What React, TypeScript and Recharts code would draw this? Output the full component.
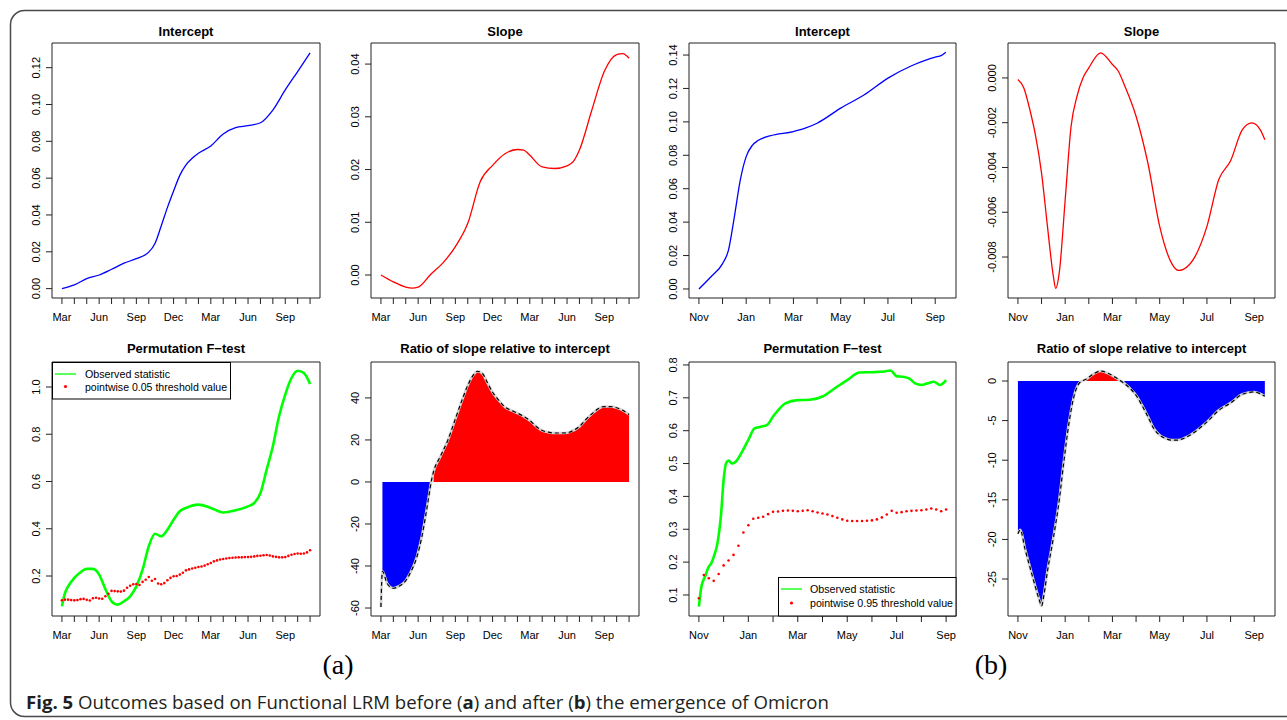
import React from 'react';
import { ComposedChart, Line, Area, XAxis, YAxis, ReferenceArea } from 'recharts';

const FONT = '"Liberation Sans", Arial, Helvetica, sans-serif';

// ---------- axis tick labels ----------
const monthTicksA = [0, 1, 2, 3, 4, 5, 6, 7, 8, 9, 10, 11, 12, 13, 14, 15, 16, 17, 18, 19, 20];
const monthLabelsA = ['Mar', '', '', 'Jun', '', '', 'Sep', '', '', 'Dec', '', '', 'Mar', '', '', 'Jun', '', '', 'Sep', '', ''];
const monthTicksB = [0, 1, 2, 3, 4, 5, 6, 7, 8, 9, 10];
const monthLabelsB = ['Nov', '', 'Jan', '', 'Mar', '', 'May', '', 'Jul', '', 'Sep'];

// ---------- (a) Intercept ----------
const interceptAMonths = [0, 1, 2, 3, 4, 5, 6, 7, 7.5, 8, 8.5, 9, 9.5, 10, 10.5, 11, 12, 13, 14, 15, 16, 17, 18, 19, 20];
const interceptAValues = [0.0, 0.002, 0.0054, 0.0074, 0.0105, 0.0138, 0.0163, 0.0198, 0.0245, 0.034, 0.044, 0.053, 0.0615, 0.0672, 0.0708, 0.0735, 0.0775, 0.084, 0.0874, 0.0885, 0.0901, 0.097, 0.1079, 0.1179, 0.128];

// ---------- (a) Slope ----------
const slopeAMonths = [0, 1, 2, 2.5, 3, 4, 5, 6, 7, 8, 9, 10, 11, 11.5, 12, 13, 14, 15, 15.5, 16, 17, 18, 19, 19.5, 20];
const slopeAValues = [0.0, -0.0013, -0.0023, -0.0025, -0.0023, 0.0001, 0.0023, 0.0054, 0.0098, 0.0177, 0.0208, 0.023, 0.0238, 0.0237, 0.0227, 0.0205, 0.0202, 0.0207, 0.0215, 0.0237, 0.0313, 0.0386, 0.0418, 0.042, 0.0411];

// ---------- (b) Intercept ----------
const interceptBMonths = [0, 0.5, 1, 1.25, 1.5, 1.75, 2, 2.25, 2.5, 3, 4, 4.5, 5, 6, 7, 8, 9, 10, 10.25, 10.45];
const interceptBValues = [0, 0.0072, 0.0152, 0.0232, 0.0432, 0.0652, 0.0792, 0.0858, 0.0888, 0.0916, 0.0942, 0.0962, 0.0992, 0.1082, 0.1162, 0.1262, 0.1336, 0.1388, 0.1396, 0.1416];

// ---------- (b) Slope ----------
const slopeBMonths = [0, 0.25, 0.5, 0.75, 1, 1.25, 1.5, 1.6, 1.75, 2, 2.25, 2.5, 2.75, 3, 3.5, 4, 4.25, 4.5, 5, 5.5, 6, 6.5, 6.8, 7, 7.5, 8, 8.5, 9, 9.5, 9.9, 10.25, 10.45];
const slopeBValues = [-0.00007, -0.00045, -0.0014, -0.0026, -0.00425, -0.00663, -0.00886, -0.0094, -0.0087, -0.00544, -0.00216, -0.00082, 0.0, 0.00045, 0.00112, 0.0006, 0.0003, -0.0003, -0.00171, -0.0038, -0.00663, -0.00827, -0.0086, -0.00855, -0.00797, -0.00663, -0.00454, -0.0037, -0.00231, -0.00201, -0.00231, -0.00276];

// ---------- (a) Permutation F-test ----------
const fObsAMonths = [0, 0.25, 0.5, 1, 1.5, 2, 2.5, 3, 3.5, 4, 4.5, 5, 5.5, 6, 6.5, 7, 7.5, 8, 8.5, 9, 9.5, 10, 11, 12, 13, 14, 15, 15.5, 16, 16.5, 17, 17.5, 18, 18.5, 19, 19.5, 20];
const fObsAValues = [0.072, 0.128, 0.156, 0.192, 0.216, 0.23, 0.23, 0.206, 0.145, 0.093, 0.079, 0.093, 0.114, 0.156, 0.227, 0.326, 0.379, 0.368, 0.396, 0.438, 0.474, 0.488, 0.502, 0.488, 0.469, 0.478, 0.495, 0.509, 0.551, 0.65, 0.749, 0.876, 0.968, 1.038, 1.069, 1.059, 1.013];
const fThrAMonths = [
  0, 0.25, 0.5, 0.75, 1, 1.25, 1.5, 1.75, 2, 2.25, 2.5, 2.75, 3, 3.25, 3.5, 3.75, 4, 4.25, 4.5, 4.75,
  5, 5.25, 5.5, 5.75, 6, 6.25, 6.5, 6.75, 7, 7.25, 7.5, 7.75, 8, 8.25, 8.5, 8.75, 9, 9.25, 9.5, 9.75,
  10, 10.25, 10.5, 10.75, 11, 11.25, 11.5, 11.75, 12, 12.25, 12.5, 12.75, 13, 13.25, 13.5, 13.75, 14, 14.25, 14.5, 14.75,
  15, 15.25, 15.5, 15.75, 16, 16.25, 16.5, 16.75, 17, 17.25, 17.5, 17.75, 18, 18.25, 18.5, 18.75, 19, 19.25, 19.5, 19.75, 20,
];
const fThrAValues = [
  0.097, 0.1, 0.1, 0.098, 0.097, 0.098, 0.102, 0.103, 0.099, 0.096, 0.106, 0.108, 0.105, 0.104, 0.114, 0.125, 0.137, 0.136, 0.135, 0.134,
  0.138, 0.15, 0.159, 0.165, 0.166, 0.162, 0.175, 0.184, 0.196, 0.18, 0.187, 0.168, 0.165, 0.17, 0.182, 0.192, 0.199, 0.2, 0.206, 0.214,
  0.224, 0.228, 0.232, 0.235, 0.238, 0.24, 0.244, 0.25, 0.255, 0.262, 0.266, 0.27, 0.272, 0.274, 0.276, 0.277, 0.278, 0.279, 0.279, 0.28,
  0.28, 0.281, 0.283, 0.285, 0.286, 0.288, 0.289, 0.287, 0.283, 0.281, 0.279, 0.279, 0.28, 0.285, 0.29, 0.293, 0.295, 0.294, 0.295, 0.3, 0.309,
];

// ---------- (a) Ratio ----------
const ratioAMonths = [0, 0.12, 0.5, 1.0, 1.5, 2.0, 2.35, 2.9, 3.3, 3.64, 3.9, 4.0, 4.24, 4.78, 5.4, 6.0, 6.6, 7.0, 7.4, 7.8, 8.2, 8.6, 9.0, 9.5, 10, 10.5, 11, 11.5, 12, 12.5, 13, 13.5, 14, 14.5, 15, 15.5, 16, 16.5, 17, 17.5, 18, 18.5, 19, 19.5, 20];
const ratioAValues = [-59.5, -42.5, -48.3, -50.6, -49.5, -47, -43.5, -35.6, -26, -14.8, -5.3, -1.6, 4.9, 12, 20, 30, 40, 46, 50.5, 52.7, 51.5, 47, 42.7, 38.9, 35.7, 34.1, 32.8, 31.2, 29.3, 26.5, 24.5, 23.7, 23.3, 23.3, 23.4, 24.5, 26.4, 29.6, 32.4, 34.8, 35.9, 35.9, 35.3, 34.1, 32.1];
const ratioAFillStart = 1;

// ---------- (b) Permutation F-test ----------
const fObsBMonths = [0, 0.1, 0.25, 0.4, 0.5, 0.6, 0.75, 0.9, 1, 1.1, 1.2, 1.35, 1.5, 1.75, 2, 2.25, 2.5, 2.75, 3, 3.5, 4, 4.5, 5, 5.5, 6, 6.5, 7, 7.5, 7.75, 8, 8.25, 8.5, 8.75, 9, 9.25, 9.5, 9.75, 10];
const fObsBValues = [0.0645, 0.125, 0.156, 0.186, 0.196, 0.216, 0.257, 0.348, 0.45, 0.501, 0.509, 0.5, 0.506, 0.536, 0.572, 0.607, 0.612, 0.617, 0.643, 0.683, 0.693, 0.694, 0.704, 0.729, 0.754, 0.777, 0.778, 0.78, 0.783, 0.766, 0.764, 0.759, 0.744, 0.739, 0.744, 0.749, 0.739, 0.754];
const fThrBMonths = [
  0, 0.2, 0.4, 0.6, 0.8, 1, 1.2, 1.4, 1.6, 1.8, 2, 2.2, 2.4, 2.6, 2.8, 3, 3.2, 3.4, 3.6, 3.8, 4, 4.2, 4.4, 4.6, 4.8,
  5, 5.2, 5.4, 5.6, 5.8, 6, 6.2, 6.4, 6.6, 6.8, 7, 7.2, 7.4, 7.6, 7.8, 8, 8.2, 8.4, 8.6, 8.8, 9, 9.2, 9.4, 9.6, 9.8, 10,
];
const fThrBValues = [
  0.09, 0.161, 0.151, 0.143, 0.164, 0.19, 0.205, 0.222, 0.25, 0.29, 0.312, 0.332, 0.335, 0.338, 0.346, 0.353, 0.354, 0.356, 0.357, 0.356, 0.355, 0.356, 0.358, 0.355, 0.351,
  0.348, 0.345, 0.34, 0.335, 0.33, 0.326, 0.325, 0.325, 0.325, 0.326, 0.327, 0.33, 0.336, 0.345, 0.356, 0.35, 0.352, 0.355, 0.356, 0.357, 0.358, 0.36, 0.363, 0.36, 0.355, 0.36,
];

// ---------- (b) Ratio ----------
const ratioBMonths = [0, 0.1, 0.3, 0.6, 0.9, 1.0, 1.1, 1.25, 1.5, 1.75, 1.95, 2.15, 2.35, 2.6, 2.9, 3.2, 3.5, 3.8, 4.1, 4.3, 4.5, 4.75, 5, 5.25, 5.5, 5.75, 6, 6.25, 6.5, 6.75, 7, 7.5, 8, 8.5, 9, 9.5, 10, 10.25, 10.45];
const ratioBValues = [-19.3, -18.8, -21.2, -24.5, -27.6, -28.4, -27.0, -24.0, -19.8, -15.0, -10.0, -5.5, -2.2, -0.25, 0.25, 0.9, 1.26, 1.0, 0.5, 0.12, -0.3, -0.96, -1.8, -3.06, -4.5, -6, -6.84, -7.26, -7.47, -7.47, -7.26, -6.4, -5.16, -3.7, -2.77, -1.68, -1.38, -1.6, -1.93];
const ratioBFillStart = 0;

// ---------- helpers ----------
const rows = (ms: number[], vs: number[]) => ms.map((m, i) => ({ m, v: vs[i] }));
const ratioRows = (ms: number[], vs: number[], start: number) =>
  ms.map((m, i) => ({
    m,
    r: vs[i],
    pos: i >= start && vs[i] > 0 ? vs[i] : null,
    neg: i >= start && vs[i] < 0 ? vs[i] : null,
  }));

type Box = { x0: number; y0: number; x1: number; y1: number };
const ML = 50, MT = 4, MR = 4, MB = 30;

const YTick = (props: any) => {
  const { x, y, payload, fmt } = props;
  const tx = x - 4;
  return (
    <text x={tx} y={y} transform={`rotate(-90 ${tx} ${y})`} textAnchor="middle" fontSize={11} fontFamily={FONT} fill="#000">
      {fmt(payload.value)}
    </text>
  );
};

function Panel(props: {
  box: Box;
  xDomain: [number, number];
  xTicks: number[];
  xLabels: string[];
  yDomain: [number, number];
  yTicks: number[];
  yFmt: (v: number) => string;
  data?: any[];
  children: React.ReactNode;
}) {
  const { box, xDomain, xTicks, xLabels, yDomain, yTicks, yFmt, data, children } = props;
  const w = box.x1 - box.x0 + ML + MR;
  const h = box.y1 - box.y0 + MT + MB;
  return (
    <div style={{ position: 'absolute', left: box.x0 - ML, top: box.y0 - MT, width: w, height: h }}>
      <ComposedChart width={w} height={h} data={data} margin={{ top: MT, right: MR, left: 0, bottom: 0 }}>
        <XAxis
          type="number"
          dataKey="m"
          domain={xDomain}
          ticks={xTicks}
          interval={0}
          allowDataOverflow
          axisLine={false}
          stroke="#222"
          tickSize={6}
          tickMargin={9}
          height={MB}
          tick={{ fontSize: 11, fill: '#000', fontFamily: FONT }}
          tickFormatter={(v: number) => xLabels[Math.round(v)] ?? ''}
        />
        <YAxis
          type="number"
          domain={yDomain}
          ticks={yTicks}
          interval={0}
          allowDataOverflow
          axisLine={false}
          stroke="#222"
          tickSize={6}
          width={ML}
          tick={(p: any) => <YTick {...p} fmt={yFmt} />}
        />
        {children}
        <ReferenceArea
          x1={xDomain[0]}
          x2={xDomain[1]}
          y1={yDomain[0]}
          y2={yDomain[1]}
          fill="none"
          fillOpacity={0}
          stroke="#222"
          strokeWidth={1}
          strokeOpacity={1}
          ifOverflow="visible"
        />
      </ComposedChart>
    </div>
  );
}

const topY0 = 43, topY1 = 298, botY0 = 362, botY1 = 616;
const cols = [
  { x0: 52, x1: 320 },
  { x0: 371, x1: 639 },
  { x0: 689, x1: 956 },
  { x0: 1008, x1: 1275 },
];
const boxOf = (c: number, top: boolean): Box => ({ x0: cols[c].x0, x1: cols[c].x1, y0: top ? topY0 : botY0, y1: top ? topY1 : botY1 });

const domA: [number, number] = [-0.8, 20.8];
const domB: [number, number] = [-0.42, 10.88];
const domB7: [number, number] = [-0.4, 10.4];

const f2 = (v: number) => v.toFixed(2);
const f3 = (v: number) => v.toFixed(3);
const f1 = (v: number) => v.toFixed(1);
const f0 = (v: number) => String(Math.round(v));

const ratioSeries = (keyPrefix: string) => [
  <Area key={keyPrefix + 'n'} dataKey="neg" type="monotone" fill="#0000ff" fillOpacity={1} stroke="none" baseValue={0} connectNulls={false} isAnimationActive={false} />,
  <Area key={keyPrefix + 'p'} dataKey="pos" type="monotone" fill="#ff0000" fillOpacity={1} stroke="none" baseValue={0} connectNulls={false} isAnimationActive={false} />,
  <Line key={keyPrefix + 'h'} dataKey="r" type="monotone" stroke="#d4d4d4" strokeWidth={2.6} dot={false} isAnimationActive={false} />,
  <Line key={keyPrefix + 'd'} dataKey="r" type="monotone" stroke="#000" strokeWidth={1.2} strokeDasharray="4 3" dot={false} isAnimationActive={false} />,
];

export default function App() {
  const titleStyle = { fontFamily: FONT, fontWeight: 700, fontSize: 13 } as const;
  const cx = (c: number) => (cols[c].x0 + cols[c].x1) / 2;
  return (
    <div style={{ position: 'absolute', left: 0, top: 0, width: 1287, height: 720, overflow: 'hidden', background: '#fff' }}>
      <svg width={1287} height={720} style={{ position: 'absolute', left: 0, top: 0 }}>
        <rect x={10.5} y={10.5} width={1310} height={706} rx={14} ry={14} fill="#fff" stroke="#4a4a4a" strokeWidth={1.5} />
      </svg>

      {/* (a) Intercept */}
      <Panel box={boxOf(0, true)} xDomain={domA} xTicks={monthTicksA} xLabels={monthLabelsA} yDomain={[-0.0051, 0.1334]} yTicks={[0, 0.02, 0.04, 0.06, 0.08, 0.1, 0.12]} yFmt={f2}>
        <Line data={rows(interceptAMonths, interceptAValues)} dataKey="v" type="monotone" stroke="#0000ff" strokeWidth={1.3} dot={false} isAnimationActive={false} />
      </Panel>

      {/* (a) Slope */}
      <Panel box={boxOf(1, true)} xDomain={domA} xTicks={monthTicksA} xLabels={monthLabelsA} yDomain={[-0.00436, 0.044]} yTicks={[0, 0.01, 0.02, 0.03, 0.04]} yFmt={f2}>
        <Line data={rows(slopeAMonths, slopeAValues)} dataKey="v" type="monotone" stroke="#ff0000" strokeWidth={1.3} dot={false} isAnimationActive={false} />
      </Panel>

      {/* (b) Intercept */}
      <Panel box={boxOf(2, true)} xDomain={domB} xTicks={monthTicksB} xLabels={monthLabelsB} yDomain={[-0.0054, 0.1472]} yTicks={[0, 0.02, 0.04, 0.06, 0.08, 0.1, 0.12, 0.14]} yFmt={f2}>
        <Line data={rows(interceptBMonths, interceptBValues)} dataKey="v" type="monotone" stroke="#0000ff" strokeWidth={1.3} dot={false} isAnimationActive={false} />
      </Panel>

      {/* (b) Slope */}
      <Panel box={boxOf(3, true)} xDomain={domB} xTicks={monthTicksB} xLabels={monthLabelsB} yDomain={[-0.00983, 0.00156]} yTicks={[-0.008, -0.006, -0.004, -0.002, 0]} yFmt={f3}>
        <Line data={rows(slopeBMonths, slopeBValues)} dataKey="v" type="monotone" stroke="#ff0000" strokeWidth={1.3} dot={false} isAnimationActive={false} />
      </Panel>

      {/* (a) Permutation F-test */}
      <Panel box={boxOf(0, false)} xDomain={domA} xTicks={monthTicksA} xLabels={monthLabelsA} yDomain={[0.0307, 1.1058]} yTicks={[0.2, 0.4, 0.6, 0.8, 1.0]} yFmt={f1}>
        <Line data={rows(fObsAMonths, fObsAValues)} dataKey="v" type="monotone" stroke="#00ff00" strokeWidth={2.6} dot={false} isAnimationActive={false} />
        <Line data={rows(fThrAMonths, fThrAValues)} dataKey="v" stroke="none" strokeWidth={0} dot={{ r: 1.3, fill: '#ff0000', stroke: 'none' }} isAnimationActive={false} />
      </Panel>

      {/* (a) Ratio */}
      <Panel box={boxOf(1, false)} data={ratioRows(ratioAMonths, ratioAValues, ratioAFillStart)} xDomain={domA} xTicks={monthTicksA} xLabels={monthLabelsA} yDomain={[-63.8, 57.1]} yTicks={[-60, -40, -20, 0, 20, 40]} yFmt={f0}>
        {ratioSeries('a')}
      </Panel>

      {/* (b) Permutation F-test */}
      <Panel box={boxOf(2, false)} xDomain={domB7} xTicks={monthTicksB} xLabels={monthLabelsB} yDomain={[0.036, 0.809]} yTicks={[0.1, 0.2, 0.3, 0.4, 0.5, 0.6, 0.7, 0.8]} yFmt={f1}>
        <Line data={rows(fObsBMonths, fObsBValues)} dataKey="v" type="monotone" stroke="#00ff00" strokeWidth={2.6} dot={false} isAnimationActive={false} />
        <Line data={rows(fThrBMonths, fThrBValues)} dataKey="v" stroke="none" strokeWidth={0} dot={{ r: 1.3, fill: '#ff0000', stroke: 'none' }} isAnimationActive={false} />
      </Panel>

      {/* (b) Ratio */}
      <Panel box={boxOf(3, false)} data={ratioRows(ratioBMonths, ratioBValues, ratioBFillStart)} xDomain={domB} xTicks={monthTicksB} xLabels={monthLabelsB} yDomain={[-29.67, 2.4]} yTicks={[-25, -20, -15, -10, -5, 0]} yFmt={f0}>
        {ratioSeries('b')}
      </Panel>

      {/* overlay: titles, legends, labels, caption */}
      <svg width={1287} height={720} style={{ position: 'absolute', left: 0, top: 0, pointerEvents: 'none' }}>
        <text x={cx(0)} y={36} textAnchor="middle" {...titleStyle}>Intercept</text>
        <text x={cx(1)} y={36} textAnchor="middle" {...titleStyle}>Slope</text>
        <text x={cx(2)} y={36} textAnchor="middle" {...titleStyle}>Intercept</text>
        <text x={cx(3)} y={36} textAnchor="middle" {...titleStyle}>Slope</text>
        <text x={cx(0)} y={353} textAnchor="middle" {...titleStyle}>Permutation F−test</text>
        <text x={cx(1)} y={353} textAnchor="middle" {...titleStyle}>Ratio of slope relative to intercept</text>
        <text x={cx(2)} y={353} textAnchor="middle" {...titleStyle}>Permutation F−test</text>
        <text x={cx(3)} y={353} textAnchor="middle" {...titleStyle}>Ratio of slope relative to intercept</text>

        {/* legend (a) */}
        <rect x={52.5} y={362.5} width={178} height={36.5} fill="#fff" stroke="#000" strokeWidth={1} />
        <line x1={55} x2={76} y1={374} y2={374} stroke="#00ff00" strokeWidth={1.3} />
        <circle cx={65.5} cy={386.5} r={1.6} fill="#ff0000" />
        <text x={85} y={378} fontFamily={FONT} fontSize={11} fill="#000" textLength={85} lengthAdjust="spacingAndGlyphs">Observed statistic</text>
        <text x={85} y={390.5} fontFamily={FONT} fontSize={11} fill="#000" textLength={142} lengthAdjust="spacingAndGlyphs">pointwise 0.05 threshold value</text>

        {/* legend (b) */}
        <rect x={778.5} y={577.5} width={177.5} height={38.5} fill="#fff" stroke="#000" strokeWidth={1} />
        <line x1={781} x2={802} y1={589} y2={589} stroke="#00ff00" strokeWidth={1.3} />
        <circle cx={791.5} cy={603} r={1.6} fill="#ff0000" />
        <text x={810} y={593} fontFamily={FONT} fontSize={11} fill="#000" textLength={85} lengthAdjust="spacingAndGlyphs">Observed statistic</text>
        <text x={810} y={607} fontFamily={FONT} fontSize={11} fill="#000" textLength={143} lengthAdjust="spacingAndGlyphs">pointwise 0.95 threshold value</text>

        <text x={338} y={674} textAnchor="middle" fontFamily='"Liberation Serif", "Times New Roman", serif' fontSize={28} fill="#000">(a)</text>
        <text x={991} y={674} textAnchor="middle" fontFamily='"Liberation Serif", "Times New Roman", serif' fontSize={28} fill="#000">(b)</text>

        <text x={26} y={709} fontFamily='"Open Sans", "Noto Sans", sans-serif' fontSize={18} fill="#231f20" textLength={803} lengthAdjust="spacingAndGlyphs">
          <tspan fontWeight={700}>Fig. 5</tspan>
          <tspan>{'  Outcomes based on Functional LRM before ('}</tspan>
          <tspan fontWeight={700}>a</tspan>
          <tspan>{') and after ('}</tspan>
          <tspan fontWeight={700}>b</tspan>
          <tspan>{') the emergence of Omicron'}</tspan>
        </text>
      </svg>
    </div>
  );
}
